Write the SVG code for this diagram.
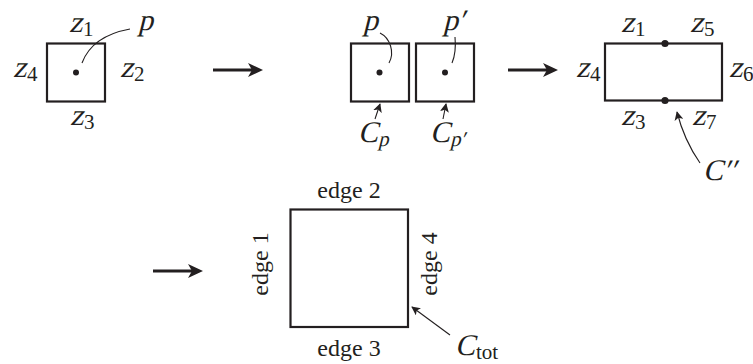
<svg xmlns="http://www.w3.org/2000/svg" width="753" height="364" viewBox="0 0 753 364">
<style>
.box{fill:none;stroke:#231f20;stroke-width:2.2}
.m{font-family:"Liberation Serif","Times New Roman",serif;font-size:30px;fill:#231f20}
.s{font-family:"Liberation Serif","Times New Roman",serif;font-size:21px;fill:#231f20}
.t{font-family:"Liberation Serif","Times New Roman",serif;font-size:24px;fill:#231f20}
.thin{fill:none;stroke:#231f20;stroke-width:1.1}
.big{stroke:#231f20;stroke-width:3.2}
.dot{fill:#231f20}
</style>
<defs>
<marker id="ah" viewBox="0 0 10 10" refX="9" refY="5" markerWidth="9" markerHeight="9" markerUnits="userSpaceOnUse" orient="auto">
<path d="M0,0 L10,5 L0,10 L2.5,5 Z" fill="#231f20"/>
</marker>
</defs>
<g id="node-box1">
<rect class="box" x="47" y="43.5" width="58" height="58"/>
<circle class="dot" cx="76" cy="72.5" r="3"/>
<text class="m" transform="translate(69,32) skewX(-14)">z</text><text class="s" x="83" y="36">1</text>
<text class="m" transform="translate(13,77) skewX(-14)">z</text><text class="s" x="27" y="81">4</text>
<text class="m" transform="translate(120,77) skewX(-14)">z</text><text class="s" x="134" y="81">2</text>
<text class="m" transform="translate(70,125) skewX(-14)">z</text><text class="s" x="84" y="129">3</text>
<text class="m" transform="translate(138,30) skewX(-14)">p</text>
</g>
<g id="node-box2a">
<rect class="box" x="351" y="43.5" width="58" height="58"/>
<circle class="dot" cx="379.5" cy="72.5" r="3"/>
<text class="m" transform="translate(363,30) skewX(-14)">p</text>
<text class="m" transform="translate(358,142) skewX(-14)">C</text><text class="s" transform="translate(378,146) skewX(-14)">p</text>
</g>
<g id="node-box2b">
<rect class="box" x="416" y="43.5" width="58" height="58"/>
<circle class="dot" cx="445" cy="72.5" r="3"/>
<text class="m" transform="translate(443,30) skewX(-14)">p′</text>
<text class="m" transform="translate(430,142) skewX(-14)">C</text><text class="s" transform="translate(450,146) skewX(-14)">p′</text>
</g>
<g id="node-box3">
<rect class="box" x="605" y="43.5" width="117" height="57"/>
<circle class="dot" cx="665" cy="43.5" r="3.6"/>
<circle class="dot" cx="665" cy="100.5" r="3.6"/>
<text class="m" transform="translate(621,32) skewX(-14)">z</text><text class="s" x="635" y="36">1</text>
<text class="m" transform="translate(690,32) skewX(-14)">z</text><text class="s" x="704" y="36">5</text>
<text class="m" transform="translate(576,77) skewX(-14)">z</text><text class="s" x="590" y="81">4</text>
<text class="m" transform="translate(729,77) skewX(-14)">z</text><text class="s" x="743" y="81">6</text>
<text class="m" transform="translate(621,125) skewX(-14)">z</text><text class="s" x="635" y="129">3</text>
<text class="m" transform="translate(692,125) skewX(-14)">z</text><text class="s" x="706" y="129">7</text>
<text class="m" transform="translate(703,180) skewX(-14)">C′′</text>
</g>
<g id="node-box4">
<rect class="box" x="290.5" y="209.5" width="117.5" height="117.5"/>
<text class="t" x="349" y="198" text-anchor="middle">edge 2</text>
<text class="t" x="349" y="356" text-anchor="middle">edge 3</text>
<text class="t" transform="translate(268,264) rotate(-90)" text-anchor="middle">edge 1</text>
<text class="t" transform="translate(437,264) rotate(-90)" text-anchor="middle">edge 4</text>
<text class="m" transform="translate(455,355) skewX(-14)">C</text><text class="s" x="476" y="359">tot</text>
</g>
<g id="connectors">
<path class="thin" d="M82,63 Q92,36 130,29"/>
<path class="thin" d="M380,33 C390,38 395,52 389,63"/>
<path class="thin" d="M455,37 C456,48 455,56 452,63"/>
<path class="thin" d="M375,119 L380,104" marker-end="url(#ah)"/>
<path class="thin" d="M443,119 L446,104" marker-end="url(#ah)"/>
<path class="thin" d="M700,163 Q684,140 677,112" marker-end="url(#ah)"/>
<path class="thin" d="M450,335 L412,307" marker-end="url(#ah)"/>
<line class="big" x1="213" y1="70" x2="252" y2="70"/>
<path class="dot" d="M263,70 L248,63 L252,70 L248,77 Z"/>
<line class="big" x1="508" y1="70" x2="547" y2="70"/>
<path class="dot" d="M558,70 L543,63 L547,70 L543,77 Z"/>
<line class="big" x1="153" y1="271" x2="192" y2="271"/>
<path class="dot" d="M203,271 L188,264 L192,271 L188,278 Z"/>
</g>
</svg>
